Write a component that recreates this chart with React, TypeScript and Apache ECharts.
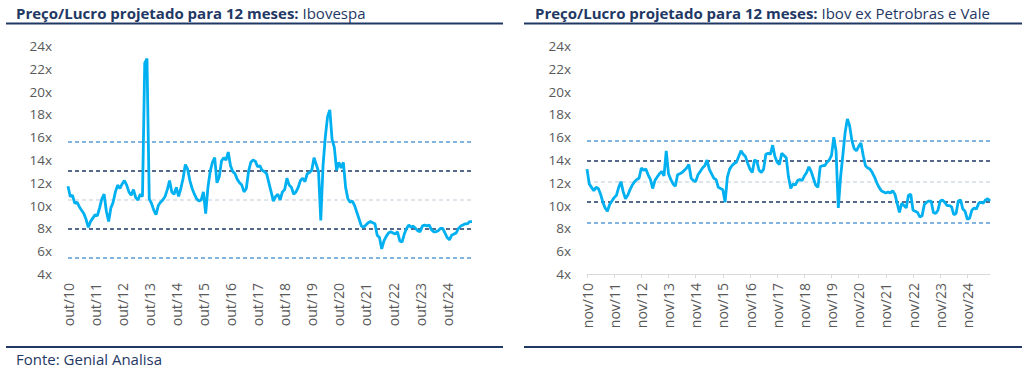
import React, { useEffect, useRef } from "react";
import * as echarts from "echarts";

const MONTHS_PT = ["jan", "fev", "mar", "abr", "mai", "jun", "jul", "ago", "set", "out", "nov", "dez"];

const leftTitleBold = "Preço/Lucro projetado para 12 meses:";
const leftTitleRest = " Ibovespa";
const rightTitleBold = "Preço/Lucro projetado para 12 meses:";
const rightTitleRest = " Ibov ex Petrobras e Vale";
const sourceText = "Fonte: Genial Analisa";

// Ibovespa P/L 12m, monthly from out/2010
const ibovValues = [
  11.7, 10.8, 10.9, 10.2, 10.3, 9.9, 9.6, 9.3, 8.8, 8.1,
  8.6, 8.9, 9.2, 9.1, 9.8, 10.6, 11.0, 9.5, 8.6, 9.8,
  10.3, 11.2, 11.8, 11.5, 11.9, 12.2, 11.8, 11.2, 10.9, 11.4,
  10.7, 10.5, 11.0, 10.8, 22.5, 22.9, 10.6, 10.2, 9.6, 9.2,
  10.0, 10.3, 10.5, 10.8, 11.4, 12.2, 11.2, 11.0, 11.6, 10.8,
  11.5, 12.4, 13.6, 13.2, 12.2, 11.5, 11.0, 10.6, 10.4, 10.5,
  11.2, 9.3, 11.6, 13.0, 13.8, 14.2, 12.0, 12.5, 13.9, 14.2,
  14.0, 14.7, 13.5, 13.0, 12.8, 12.3, 12.0, 11.8, 11.2, 11.5,
  13.0, 13.8, 14.0, 13.9, 13.4, 13.5, 13.1, 13.0, 12.8, 12.0,
  11.2, 10.4, 10.8, 11.0, 10.5, 11.2, 11.4, 12.4, 11.8, 11.6,
  11.0, 11.2, 11.6, 12.2, 12.4, 12.1, 12.8, 12.9, 13.1, 14.2,
  13.6, 13.0, 8.7, 13.5, 16.0, 17.8, 18.4, 15.8, 15.1, 13.1,
  13.8, 13.3, 13.8, 11.6, 10.6, 10.3, 10.4, 10.0, 9.4, 8.8,
  8.2, 8.1, 8.3, 8.5, 8.6, 8.5, 8.4, 7.4, 7.2, 6.2,
  6.9, 7.3, 7.6, 7.7, 7.6, 7.5, 7.7, 6.9, 6.8, 7.5,
  8.0, 8.3, 8.1, 8.2, 8.0, 7.8, 7.7, 8.2, 8.3, 8.2,
  8.3, 7.9, 7.7, 7.7, 7.8, 8.0, 8.0, 7.6, 7.2, 7.0,
  7.4, 7.5, 7.6, 8.0, 8.2, 8.3, 8.4, 8.4, 8.6, 8.6,
];

// Ibov ex Petrobras e Vale P/L 12m, monthly from nov/2010
const exPetroValeValues = [
  13.2, 11.9, 11.6, 11.3, 11.6, 11.5, 11.0, 10.3, 9.8, 9.5,
  10.1, 10.4, 10.7, 10.9, 11.6, 12.1, 11.2, 10.6, 10.9, 11.4,
  11.8, 12.1, 12.3, 12.4, 13.3, 13.1, 13.2, 12.7, 12.3, 11.5,
  12.2, 12.5, 12.8, 13.0, 12.6, 14.8, 12.8, 12.3, 11.9, 11.7,
  12.7, 12.8, 12.9, 13.1, 13.3, 13.6, 12.4, 12.2, 12.1, 12.7,
  13.0, 13.3, 13.5, 14.0, 13.2, 12.8, 12.4, 12.3, 11.6, 11.5,
  11.4, 10.3, 12.5, 13.2, 13.5, 13.7, 13.8, 14.3, 14.8, 14.5,
  14.3, 13.7, 13.2, 12.9, 14.0, 13.9, 13.1, 12.9, 13.2, 14.5,
  14.6, 14.5, 15.3, 14.3, 13.8, 13.6, 14.6, 14.4, 14.2, 12.5,
  11.5, 11.9, 11.8, 12.2, 12.3, 12.2, 12.6, 12.9, 13.4, 13.0,
  12.4, 11.8, 11.6, 13.4, 13.5, 13.5, 13.8, 14.0, 14.4, 16.0,
  14.8, 9.8, 12.5, 14.4, 16.4, 17.6, 17.0, 15.7, 15.0, 14.8,
  15.2, 15.5, 14.4, 13.5, 13.3, 13.2, 12.9, 12.5, 12.0, 11.6,
  11.3, 11.2, 11.1, 11.2, 11.1, 11.3, 11.0, 10.2, 9.4, 10.2,
  10.0, 9.8, 10.9, 11.0, 9.6, 9.5, 9.4, 9.0, 9.1, 10.1,
  10.3, 10.4, 10.4, 9.4, 9.3, 9.6, 10.4, 10.5, 10.3, 10.0,
  10.0, 9.9, 9.2, 9.3, 10.4, 10.5, 9.7, 9.5, 8.8, 8.9,
  9.6, 9.8, 9.7, 10.2, 10.3, 10.2, 10.5, 10.6, 10.4,
];

// reference lines: +2σ, +1σ, mean, -1σ, -2σ
const ibovRefs = [15.6, 13.05, 10.55, 8.0, 5.45];
const exRefs = [15.65, 13.9, 12.1, 10.35, 8.5];

const yTicks = { min: 4, max: 24, interval: 2 };

const NAVY = "#1f3864";
const LINE_BLUE = "#00b0f0";
const REF_COLORS = ["#5b9bd5", NAVY, "#d6dce5", NAVY, "#5b9bd5"];
const FONT = "Open Sans";

function monthLabels(startYear: number, startMonth: number, n: number): string[] {
  const out: string[] = [];
  for (let k = 0; k < n; k++) {
    const m = (startMonth + k) % 12;
    const y = startYear + Math.floor((startMonth + k) / 12);
    out.push(`${MONTHS_PT[m]}/${String(y % 100).padStart(2, "0")}`);
  }
  return out;
}

const ibovCategories = monthLabels(2010, 9, ibovValues.length);
const exCategories = monthLabels(2010, 10, exPetroValeValues.length);

export default function App() {
  const ref = useRef<HTMLDivElement>(null);
  useEffect(() => {
    if (!ref.current) return;
    const chart = echarts.init(ref.current, null, { renderer: "svg" });
    const everyYear = (i: number) => i % 12 === 0;
    const xAxisBase = (cats: string[], gridIndex: number, showLine: boolean) => ({
      type: "category",
      gridIndex,
      data: cats,
      boundaryGap: false,
      axisLine: { show: showLine, lineStyle: { color: "#d9d9d9", width: 1 } },
      axisTick: { show: showLine, interval: everyYear, length: 4, lineStyle: { color: "#d9d9d9" } },
      axisLabel: {
        interval: everyYear,
        rotate: 90,
        margin: 9,
        color: "#595959",
        fontFamily: FONT,
        fontSize: 14,
      },
      splitLine: { show: false },
    });
    const yAxisBase = (gridIndex: number) => ({
      type: "value",
      gridIndex,
      min: yTicks.min,
      max: yTicks.max,
      interval: yTicks.interval,
      axisLine: { show: false },
      axisTick: { show: false },
      splitLine: { show: false },
      axisLabel: {
        formatter: "{value}x",
        color: "#595959",
        fontFamily: FONT,
        fontSize: 13.5,
        margin: 16,
      },
    });
    const markLine = (refs: number[]) => ({
      silent: true,
      symbol: ["none", "none"],
      z: 1,
      label: { show: false },
      emphasis: { disabled: true },
      data: refs.map((v, k) => ({
        yAxis: v,
        lineStyle: { color: REF_COLORS[k], type: [4, 3], width: 1.6 },
      })),
    });
    const titleText = (x: number, bold: string, rest: string) => ({
      type: "text",
      x,
      y: 13,
      style: {
        text: `{b|${bold}}{r|${rest}}`,
        rich: {
          b: { fontFamily: FONT, fontWeight: "bold", fontSize: 15, fill: NAVY },
          r: { fontFamily: FONT, fontWeight: "normal", fontSize: 15, fill: NAVY },
        },
        verticalAlign: "middle",
      },
    });
    const hline = (x1: number, x2: number, y: number) => ({
      type: "line",
      shape: { x1, y1: y, x2, y2: y },
      style: { stroke: NAVY, lineWidth: 2 },
    });
    chart.setOption({
      animation: false,
      grid: [
        { left: 68, top: 46, width: 404, height: 228 },
        { left: 587, top: 46, width: 403, height: 228 },
      ],
      xAxis: [xAxisBase(ibovCategories, 0, false), xAxisBase(exCategories, 1, true)],
      yAxis: [yAxisBase(0), yAxisBase(1)],
      series: [
        {
          type: "line",
          xAxisIndex: 0,
          yAxisIndex: 0,
          data: ibovValues,
          showSymbol: false,
          z: 10,
          lineStyle: { color: LINE_BLUE, width: 2.8 },
          itemStyle: { color: LINE_BLUE },
          markLine: markLine(ibovRefs),
        },
        {
          type: "line",
          xAxisIndex: 1,
          yAxisIndex: 1,
          data: exPetroValeValues,
          showSymbol: false,
          z: 10,
          lineStyle: { color: LINE_BLUE, width: 2.8 },
          itemStyle: { color: LINE_BLUE },
          markLine: markLine(exRefs),
        },
      ],
      graphic: [
        titleText(16, leftTitleBold, leftTitleRest),
        titleText(535, rightTitleBold, rightTitleRest),
        hline(6, 503, 23.5),
        hline(524, 1022, 23.5),
        hline(6, 503, 347),
        hline(524, 1022, 347),
        {
          type: "text",
          x: 16,
          y: 359,
          style: {
            text: sourceText,
            fontFamily: FONT,
            fontSize: 15,
            fill: NAVY,
            verticalAlign: "middle",
          },
        },
      ],
    });
    return () => chart.dispose();
  }, []);
  return (
    <div
      ref={ref}
      style={{ position: "absolute", left: 0, top: 0, width: 1024, height: 376, background: "#fff" }}
    />
  );
}
